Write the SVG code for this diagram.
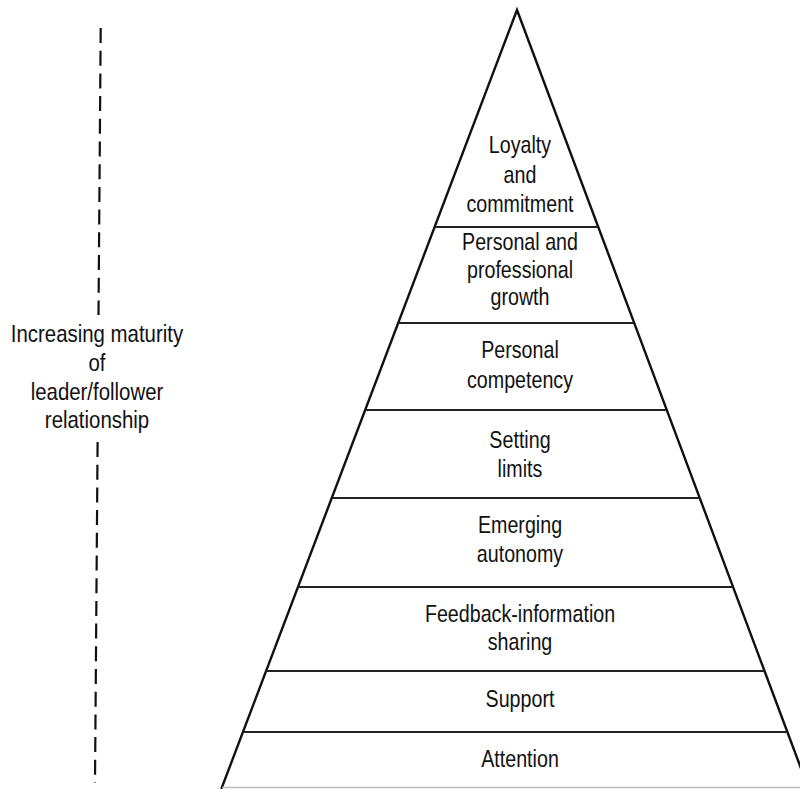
<svg xmlns="http://www.w3.org/2000/svg" width="800" height="789" viewBox="0 0 800 789">
  <style>
    .edge { fill: none; stroke: #111; stroke-width: 2.4; stroke-linejoin: miter; }
    .tier { stroke: #222; stroke-width: 2; }
    .base { stroke: #bbb; stroke-width: 1.5; }
    .axis { stroke: #111; stroke-width: 2.2; stroke-dasharray: 15 7.7; }
    text { font-family: "Liberation Sans", Arial, sans-serif; font-size: 24px; fill: #111; text-anchor: middle; }
  </style>
  <rect width="800" height="789" fill="#fff"/>

  <!-- pyramid outline -->
  <g id="pyramid">
    <polyline class="edge" points="221.3,789 517,10 808.7,789"/>
    <line class="base" x1="222" y1="787.5" x2="800" y2="787.5"/>
  </g>

  <!-- tier dividers -->
  <g id="dividers">
    <line class="tier" x1="434.6" y1="227" x2="598.3" y2="227"/>
    <line class="tier" x1="398.2" y1="323" x2="634.2" y2="323"/>
    <line class="tier" x1="365.2" y1="410" x2="666.8" y2="410"/>
    <line class="tier" x1="331.8" y1="498" x2="699.8" y2="498"/>
    <line class="tier" x1="298.0" y1="587" x2="733.1" y2="587"/>
    <line class="tier" x1="266.2" y1="671" x2="764.5" y2="671"/>
    <line class="tier" x1="243.0" y1="732" x2="787.4" y2="732"/>
  </g>

  <!-- tier labels -->
  <g id="loyalty">
    <text transform="matrix(0.82 0 0 1 520 153)">Loyalty</text>
    <text transform="matrix(0.82 0 0 1 520 183)">and</text>
    <text transform="matrix(0.82 0 0 1 520 212)">commitment</text>
  </g>
  <g id="growth">
    <text transform="matrix(0.82 0 0 1 520 250)">Personal and</text>
    <text transform="matrix(0.82 0 0 1 520 278)">professional</text>
    <text transform="matrix(0.82 0 0 1 520 305)">growth</text>
  </g>
  <g id="competency">
    <text transform="matrix(0.82 0 0 1 520 358)">Personal</text>
    <text transform="matrix(0.82 0 0 1 520 388)">competency</text>
  </g>
  <g id="limits">
    <text transform="matrix(0.82 0 0 1 520 448)">Setting</text>
    <text transform="matrix(0.82 0 0 1 520 477)">limits</text>
  </g>
  <g id="autonomy">
    <text transform="matrix(0.82 0 0 1 520 533)">Emerging</text>
    <text transform="matrix(0.82 0 0 1 520 562)">autonomy</text>
  </g>
  <g id="feedback">
    <text transform="matrix(0.82 0 0 1 520 622)">Feedback-information</text>
    <text transform="matrix(0.82 0 0 1 520 650)">sharing</text>
  </g>
  <g id="support">
    <text transform="matrix(0.82 0 0 1 520 707)">Support</text>
  </g>
  <g id="attention">
    <text transform="matrix(0.82 0 0 1 520 767)">Attention</text>
  </g>

  <!-- maturity axis -->
  <g id="axis">
    <line class="axis" x1="100.7" y1="28" x2="98.5" y2="315"/>
    <line class="axis" x1="97.6" y1="442" x2="95" y2="783"/>
  </g>
  <g id="axis-label">
    <text transform="matrix(0.85 0 0 1 97 342)">Increasing maturity</text>
    <text transform="matrix(0.85 0 0 1 97 371)">of</text>
    <text transform="matrix(0.85 0 0 1 97 400)">leader/follower</text>
    <text transform="matrix(0.85 0 0 1 97 428)">relationship</text>
  </g>
</svg>
